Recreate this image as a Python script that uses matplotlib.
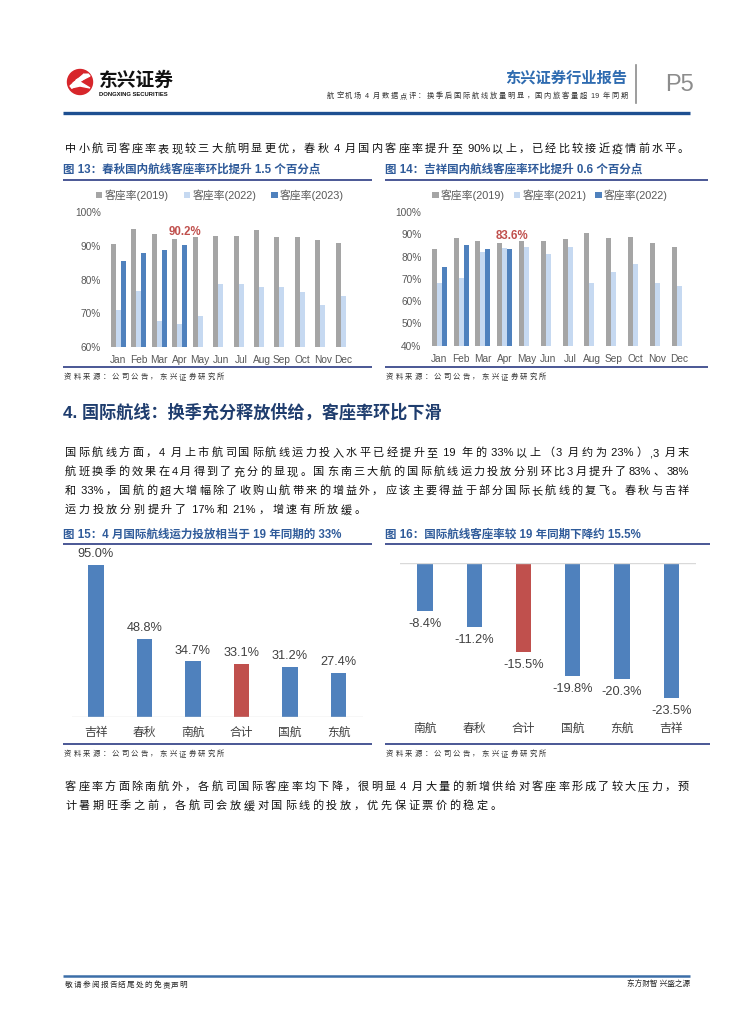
import re
import numpy as np
import matplotlib
matplotlib.use('Agg')
import matplotlib.pyplot as plt
from matplotlib.patches import Circle, Polygon

plt.rcParams['font.family'] = ['Liberation Sans', 'Noto Sans CJK SC']

# ---- data ----
months = ['Jan', 'Feb', 'Mar', 'Apr', 'May', 'Jun', 'Jul', 'Aug', 'Sep', 'Oct', 'Nov', 'Dec']
# 图13 春秋客座率 (%)
cq_2019 = [90.6, 94.9, 93.4, 91.9, 92.6, 92.8, 92.8, 94.6, 92.5, 92.5, 91.7, 90.8]
cq_2022 = [70.9, 76.5, 67.7, 66.9, 69.2, 78.8, 78.8, 77.7, 77.9, 76.2, 72.5, 75.1]
cq_2023 = [85.6, 88.0, 88.8, 90.2]
# 图14 吉祥客座率 (%)
jx_2019 = [83.3, 88.4, 87.1, 85.9, 86.8, 86.8, 87.8, 90.7, 88.4, 88.9, 85.9, 84.1]
jx_2021 = [68.2, 70.6, 82.0, 83.8, 84.5, 81.2, 84.2, 68.2, 73.0, 76.6, 68.2, 66.7]
jx_2022 = [75.2, 85.0, 83.3, 83.6]
# 图15 国际航线运力投放 / 19年同期
cap_names = ['吉祥', '春秋', '南航', '合计', '国航', '东航']
cap_vals = [95.0, 48.8, 34.7, 33.1, 31.2, 27.4]
# 图16 国际航线客座率较19年同期变化
lf_names = ['南航', '春秋', '合计', '国航', '东航', '吉祥']
lf_vals = [-8.4, -11.2, -15.5, -19.8, -20.3, -23.5]

W, H = 755, 1024
GRAY = '#a5a5a5'
LBLUE = '#c6d9f1'
BLUE = '#4f81bd'
RED = '#c0504d'
TITLE_C = '#2f5b9a'
LINE_C = '#3c4a8c'
TXT = '#404040'
SRC = '资料来源：公司公告，东兴证券研究所'

fig = plt.figure(figsize=(W / 100, H / 100), dpi=100)
bg = fig.add_axes([0, 0, 1, 1])
bg.set_xlim(0, W)
bg.set_ylim(H, 0)
bg.axis('off')
renderer = fig.canvas.get_renderer()


def ax_at(x0, y0, x1, y1):
    return fig.add_axes([x0 / W, 1 - y1 / H, (x1 - x0) / W, (y1 - y0) / H])


def put_line(s, x0, y, fs, x1=None, gap=2.6, **kw):
    # 中文两端对齐: 每个汉字一个块, ascii 连在一起
    toks = re.findall(r'[ -~]+|.', s)
    yb = y + 0.38 * fs * 100 / 72
    ts = [bg.text(0, yb, t, fontsize=fs, va='baseline', ha='left', **kw) for t in toks]
    ws = [t.get_window_extent(renderer).width for t in ts]
    if x1 is not None and len(ts) > 1:
        gap = (x1 - x0 - sum(ws)) / (len(ts) - 1)
    x = x0
    for t, w in zip(ts, ws):
        t.set_x(x)
        x += w + gap


def hline(y, x0, x1, c, lw):
    bg.plot([x0, x1], [y, y], color=c, lw=lw, solid_capstyle='butt')


# ---- header ----
bg.add_patch(Circle((80, 82), 12.5, color='#d7262b'))
for k in range(3):
    bg.add_patch(Polygon([[70 + k * 3, 86 - k * 3], [84 + k * 2, 74], [86 + k * 2, 76],
                          [72 + k * 3, 88 - k * 3]], closed=True, color='white'))
bg.add_patch(Polygon([[71, 88], [80, 82], [90, 88], [80, 86]], closed=True, color='white'))
bg.text(99, 81, '东兴证券', fontsize=13.5, fontweight='bold', color='#111111', va='center')
bg.text(99, 95, 'DONGXING SECURITIES', fontsize=4.2, fontweight='bold', color='#111111', va='center')
bg.text(627, 78, '东兴证券行业报告', fontsize=11, fontweight='bold', color='#2e6bb0', va='center', ha='right')
put_line('航空机场 4 月数据点评：换季后国际航线放量明显，国内旅客量超 19 年同期', 327, 95, 5.2, x1=628,
         color='#333333')
bg.plot([636, 636], [65, 103], color='#8c8c8c', lw=1.2)
bg.text(665, 85, 'P5', fontsize=17, color='#8c8c8c', va='center')
hline(113, 63, 690, '#1d4f91', 2.4)

put_line('中小航司客座率表现较三大航明显更优，春秋 4 月国内客座率提升至 90%以上，已经比较接近疫情前水平。',
         65, 148, 8, x1=689, color='#111111')

# ---- 图13 / 图14 titles ----
bg.text(63, 170, '图 13：春秋国内航线客座率环比提升 1.5 个百分点', fontsize=8.3, fontweight='bold',
        color=TITLE_C, va='center')
hline(180, 63, 372, LINE_C, 1.3)
bg.text(385, 170, '图 14：吉祥国内航线客座率环比提升 0.6 个百分点', fontsize=8.3, fontweight='bold',
        color=TITLE_C, va='center')
hline(180, 385, 708, LINE_C, 1.3)


def month_chart(ax, a, b, c, labs, lo, wbar, tag_y, tag_x, tag):
    x = np.arange(12)
    ax.bar(x - wbar, a, wbar, color=GRAY, label=labs[0])
    ax.bar(x, b, wbar, color=LBLUE, label=labs[1])
    ax.bar(x[:len(c)] + wbar, c, wbar, color=BLUE, label=labs[2])
    ax.set_xlim(-0.5, 11.5)
    ax.set_ylim(lo, 100)
    ax.set_yticks(np.arange(lo, 101, 10))
    ax.set_yticklabels(['%d%%' % v for v in np.arange(lo, 101, 10)])
    ax.set_xticks(x)
    ax.set_xticklabels(months)
    ax.tick_params(length=0, labelsize=7.3, labelcolor='#595959')
    ax.tick_params(axis='x', pad=6)
    ax.tick_params(axis='y', pad=5)
    for s in ax.spines.values():
        s.set_visible(False)
    ax.patch.set_alpha(0)
    ax.text(tag_x, tag_y, tag, color=RED, fontsize=8.3, fontweight='bold', ha='center', va='center')


ax13 = ax_at(108, 212, 353.6, 347)
month_chart(ax13, cq_2019, cq_2022, cq_2023, ['客座率(2019)', '客座率(2022)', '客座率(2023)'],
            60, 0.245, 94.1, 3.27, '90.2%')
ax13.legend(loc='center', bbox_to_anchor=(220, 195), bbox_transform=bg.transData, ncol=3, frameon=False,
            fontsize=7.8, labelcolor='#595959', handlelength=0.6, handleheight=0.6, handletextpad=0.2,
            columnspacing=1.4)

ax14 = ax_at(428.4, 212, 690, 345.7)
month_chart(ax14, jx_2019, jx_2021, jx_2022, ['客座率(2019)', '客座率(2021)', '客座率(2022)'],
            40, 0.23, 89.2, 3.33, '83.6%')
ax14.legend(loc='center', bbox_to_anchor=(550, 195), bbox_transform=bg.transData, ncol=3, frameon=False,
            fontsize=7.8, labelcolor='#595959', handlelength=0.6, handleheight=0.6, handletextpad=0.2,
            columnspacing=0.8)

hline(367, 63, 372, LINE_C, 1.3)
hline(367, 385, 708, LINE_C, 1.3)
put_line(SRC, 64, 376, 5.3, gap=2.2, color='#333333')
put_line(SRC, 386, 376, 5.3, gap=2.2, color='#333333')

# ---- section 4 ----
bg.text(63, 412, '4. 国际航线：换季充分释放供给，客座率环比下滑', fontsize=12.3, fontweight='bold',
        color='#1f3d6e', va='center')
para1 = ['国际航线方面，4 月上市航司国际航线运力投入水平已经提升至 19 年的 33%以上（3 月约为 23%）,3 月末',
         '航班换季的效果在4月得到了充分的显现。国东南三大航的国际航线运力投放分别环比3月提升了83%、38%',
         '和 33%，国航的超大增幅除了收购山航带来的增益外，应该主要得益于部分国际长航线的复飞。春秋与吉祥']
for i, s in enumerate(para1):
    put_line(s, 65, 452 + i * 19, 8, x1=689, color='#111111')
put_line('运力投放分别提升了 17%和 21%，增速有所放缓。', 65, 509, 8, gap=2.6, color='#111111')

# ---- 图15 / 图16 ----
bg.text(63, 535, '图 15：4 月国际航线运力投放相当于 19 年同期的 33%', fontsize=8.3, fontweight='bold',
        color=TITLE_C, va='center')
hline(544, 63, 372, LINE_C, 1.3)
bg.text(385, 535, '图 16：国际航线客座率较 19 年同期下降约 15.5%', fontsize=8.3, fontweight='bold',
        color=TITLE_C, va='center')
hline(544, 385, 710, LINE_C, 1.3)

ax15 = ax_at(71.75, 557, 362.75, 717)
x = np.arange(len(cap_vals))
cols = [RED if n == '合计' else BLUE for n in cap_names]
ax15.bar(x, cap_vals, 0.31, color=cols)
ax15.set_xlim(-0.5, 5.5)
ax15.set_ylim(0, 100)
ax15.axhline(0, color='#d9d9d9', lw=1)
for xi, v in zip(x, cap_vals):
    ax15.annotate('%.1f%%' % v, (xi, v), xytext=(0, 3.5), textcoords='offset points', ha='center', va='bottom',
                  fontsize=9.2, color=TXT)
ax15.set_xticks(x)
ax15.set_xticklabels(cap_names)
ax15.set_yticks([])
ax15.tick_params(length=0, labelsize=8.5, labelcolor=TXT, pad=7)
for s in ax15.spines.values():
    s.set_visible(False)
ax15.patch.set_alpha(0)

ax16 = ax_at(400.3, 562.7, 696, 712.1)
x = np.arange(len(lf_vals))
cols = [RED if n == '合计' else BLUE for n in lf_names]
ax16.bar(x, lf_vals, 0.31, color=cols)
ax16.set_xlim(-0.5, 5.5)
ax16.set_ylim(-26, 0)
ax16.axhline(0, color='#d9d9d9', lw=1)
for xi, v in zip(x, lf_vals):
    ax16.annotate('%.1f%%' % v, (xi, v), xytext=(0, -5), textcoords='offset points', ha='center', va='top',
                  fontsize=9.2, color=TXT)
ax16.set_xticks(x)
ax16.set_xticklabels(lf_names)
ax16.set_yticks([])
ax16.tick_params(length=0, labelsize=8.5, labelcolor=TXT, pad=8)
for s in ax16.spines.values():
    s.set_visible(False)
ax16.patch.set_alpha(0)

hline(744, 63, 372, LINE_C, 1.3)
hline(744, 385, 710, LINE_C, 1.3)
put_line(SRC, 64, 753, 5.3, gap=2.2, color='#333333')
put_line(SRC, 386, 753, 5.3, gap=2.2, color='#333333')

put_line('客座率方面除南航外，各航司国际客座率均下降，很明显 4 月大量的新增供给对客座率形成了较大压力，预',
         65, 786, 8, x1=689, color='#111111')
put_line('计暑期旺季之前，各航司会放缓对国际线的投放，优先保证票价的稳定。', 65, 805, 8, gap=2.6, color='#111111')

# ---- footer ----
hline(976, 63, 690, '#3c6ea8', 1.8)
put_line('敬请参阅报告结尾处的免责声明', 65, 984, 5.5, gap=1.2, color='#222222')
bg.text(690, 984, '东方财智 兴盛之源', fontsize=5.5, color='#222222', va='center', ha='right')

fig.savefig('out.png', dpi=100, facecolor='white')
